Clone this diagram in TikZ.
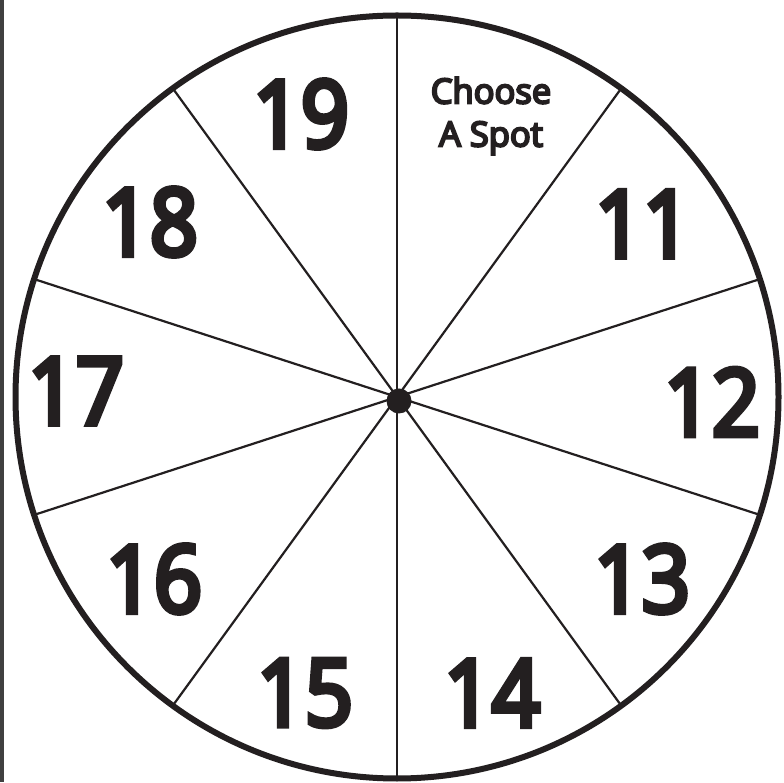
\documentclass[tikz,border=0pt]{standalone}
\usepackage{fontspec}
\setmainfont{Open Sans}
\newfontfamily\semifont{Open Sans}[RawFeature={embolden=6}]
\newfontfamily\seminum{Open Sans}[RawFeature={embolden=6},FakeStretch=0.9]
\usetikzlibrary{calc}
\definecolor{ink}{HTML}{231F20}
\definecolor{strip}{HTML}{404040}
\begin{document}
\begin{tikzpicture}[x=1pt,y=1pt,
  num/.style={text=ink,font=\seminum\fontsize{93}{93}\selectfont,inner sep=0pt},
  small/.style={text=ink,font=\semifont\fontsize{34.5}{43}\selectfont,align=center,inner sep=0pt},
  spoke/.style={draw=ink,line width=2.2pt}]
\useasboundingbox (0,0) rectangle (784,782);
\fill[white] (0,0) rectangle (784,782);
\fill[strip] (0,0) rectangle (3.5,782);
\coordinate (c) at (397,385);
\foreach \a in {90,54,18,-18,-54} {
  \draw[spoke] ($(c)+(\a:381.5)$) -- ($(c)+(\a+180:381.5)$);
}
\draw[ink,line width=6pt] (c) circle (381.5);
\fill[ink] (399,381) circle (12.5);
\node[num] (n19) at (301,668) {19};
\node[small] (cs) at (491,666) {Choose\\A Spot};
\node[num] (n11) at (643,558) {11};
\node[num] (n18) at (150,560) {18};
\node[num] (n17) at (76,391) {17};
\node[num] (n12) at (712,380) {12};
\node[num] (n16) at (154,203) {16};
\node[num] (n13) at (642,203) {13};
\node[num] (n15) at (305,89) {15};
\node[num] (n14) at (492,89) {14};
\end{tikzpicture}
\end{document}
